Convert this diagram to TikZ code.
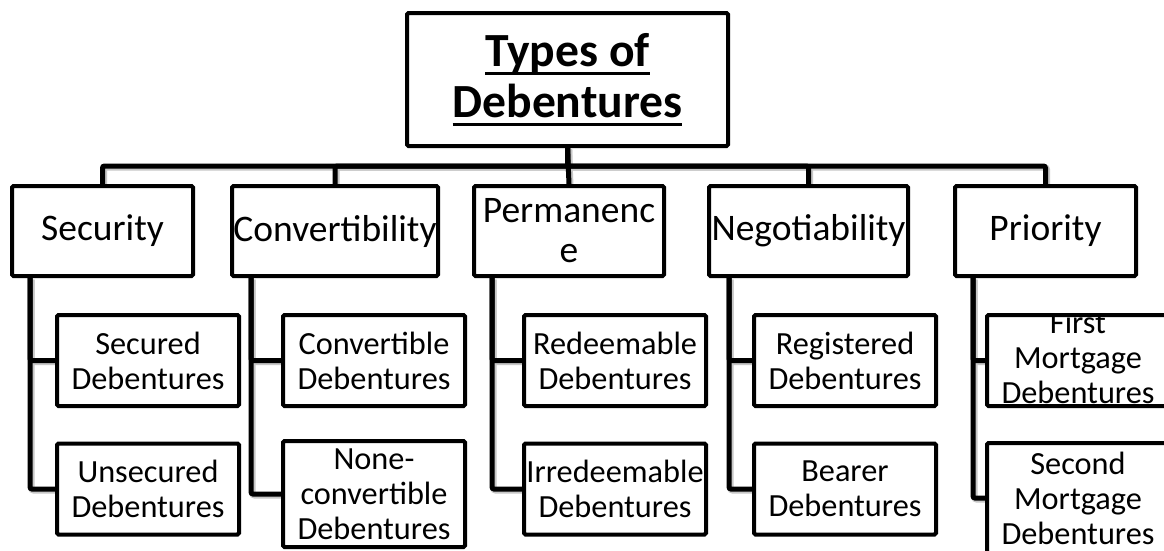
\documentclass[tikz,border=0pt]{standalone}
\usepackage{fontspec}
\setmainfont{Carlito}
\usetikzlibrary{calc}

% page background, then connector shadows, then connectors, then boxes
\pgfdeclarelayer{paper}
\pgfdeclarelayer{shade}
\pgfdeclarelayer{links}
\pgfsetlayers{paper,shade,links,main}

% bold title line with a thick underline
\newcommand\headrule[1]{\setbox0\hbox{#1}\rlap{\rule[-8.5pt]{\wd0}{3pt}}\box0}

% one connector: shadow pass, then the black line
\newcommand\wirepath[1]{%
  \begin{pgfonlayer}{shade}\draw[wireshade] #1;\end{pgfonlayer}%
  \begin{pgfonlayer}{links}\draw[wire] #1;\end{pgfonlayer}}

\tikzset{
  box/.style={draw=black, line width=4pt, fill=white, rounded corners=1.5pt,
    inner sep=0pt, align=center, text=black},
  headbox/.style={box, minimum width=321pt, minimum height=133pt,
    font=\fontsize{47.6}{51}\selectfont\bfseries},
  catbox/.style={box, minimum height=90pt, font=\fontsize{37.5}{40}\selectfont},
  itembox/.style={box, minimum width=182pt, minimum height=91pt,
    font=\fontsize{32.3}{35}\selectfont},
  itemtext/.style={inner sep=0pt, align=center, text=black,
    font=\fontsize{32.3}{35}\selectfont},
  wire/.style={draw=black, line width=5pt, rounded corners=2pt},
  wireshade/.style={draw=black!22, line width=6pt, rounded corners=2pt,
    transform canvas={shift={(1.5,1.5)}}},
}

\begin{document}
\begin{tikzpicture}[x=1pt, y=-1pt]
\begin{pgfonlayer}{paper}
  \fill[white] (0,0) rectangle (1164,550);
\end{pgfonlayer}
\useasboundingbox (0,0) rectangle (1164,550);

% root
\node[headbox] (head) at (567.5,79.5) {\headrule{Types of}\\\headrule{Debentures}};

% categories
\node[catbox, minimum width=181pt] (sec)  at (102.5,231) {Security};
\node[catbox, minimum width=206pt] (conv) at (335,231)   {Convertibility};
\node[catbox, minimum width=190pt] (perm) at (569,231)   {Permanenc\\e};
\node[catbox, minimum width=199pt] (neg)  at (808.5,231) {Negotiability};
\node[catbox, minimum width=181pt] (pri)  at (1045.5,231){Priority};

% kinds of debentures
\node[itembox] (sec1)  at (148,360.5) {Secured\\Debentures};
\node[itembox] (sec2)  at (148,489)   {Unsecured\\Debentures};
\node[itembox] (conv1) at (374,360.5) {Convertible\\Debentures};
\node[itembox, minimum height=106pt] (conv2) at (374,494)
  {None-\\convertible\\Debentures};
\node[itembox] (perm1) at (615,360.5) {Redeemable\\Debentures};
\node[itembox] (perm2) at (615,489)   {Irredeemable\\Debentures};
\node[itembox] (neg1)  at (845,360.5) {Registered\\Debentures};
\node[itembox] (neg2)  at (845,489)   {Bearer\\Debentures};
\node[itembox] (pri1)  at (1078,360.5) {};
\begin{scope}
  \clip ([shift={(4,4)}]pri1.north west) rectangle ([shift={(20,20)}]pri1.south east);
  \node[itemtext] (pri1text) at ($(pri1.center)+(0,-3)$) {First\\Mortgage\\Debentures};
\end{scope}
\node[itembox, minimum height=110pt] (pri2) at (1078,498)
  {Second\\Mortgage\\Debentures};

% root to categories
\wirepath{(head.south) -- ++(0,18) -| (sec.north)}
\wirepath{(head.south) -- ++(0,18) -| (conv.north)}
\wirepath{(head.south) -- (perm.north)}
\wirepath{(head.south) -- ++(0,18) -| (neg.north)}
\wirepath{(head.south) -- ++(0,18) -| (pri.north)}

% categories to their kinds
\foreach \c/\dx in {sec/20, conv/21, perm/20, neg/22, pri/20}{
  \wirepath{([xshift=\dx pt]\c.south west) |- (\c1.west)}
  \wirepath{([xshift=\dx pt]\c.south west) |- (\c2.west)}
}
\end{tikzpicture}
\end{document}
